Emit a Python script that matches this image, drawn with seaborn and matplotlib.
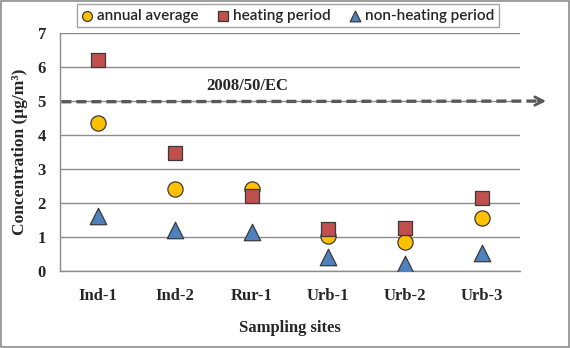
import numpy as np
import pandas as pd
import matplotlib
matplotlib.use("Agg")
import matplotlib.pyplot as plt
import seaborn as sns

# values
sites = ["Ind-1", "Ind-2", "Rur-1", "Urb-1", "Urb-2", "Urb-3"]
annual_average = [4.35, 2.41, 2.41, 1.03, 0.86, 1.57]
heating_period = [6.20, 3.46, 2.21, 1.23, 1.26, 2.16]
non_heating_period = [1.62, 1.20, 1.14, 0.42, 0.20, 0.53]
limit_value = 5.0
limit_label = "2008/50/EC"

series = ["annual average", "heating period", "non-heating period"]

df = pd.DataFrame({
    "site": sites,
    "annual average": annual_average,
    "heating period": heating_period,
    "non-heating period": non_heating_period,
})
long_df = df.melt(id_vars="site", var_name="series", value_name="value")
long_df["x"] = long_df["site"].map({s: i for i, s in enumerate(sites)})

sns.set_style("white")
plt.rcParams["font.family"] = ["Liberation Serif", "DejaVu Serif"]

fig = plt.figure(figsize=(5.7, 3.48), dpi=100)
ax = fig.add_axes([0.105, 0.221, 0.807, 0.684])

palette = {"annual average": "#FFC000", "heating period": "#C0504D",
           "non-heating period": "#4F81BD"}
markers = {"annual average": "o", "heating period": "s",
           "non-heating period": "^"}
sizes = {"annual average": 120, "heating period": 110, "non-heating period": 140}

for name in series:
    sub = long_df[long_df["series"] == name]
    sns.scatterplot(data=sub, x="x", y="value", color=palette[name],
                    marker=markers[name], s=sizes[name], edgecolor="#3a3a3a",
                    linewidth=0.9, ax=ax, zorder=3, label=name, legend=False)

ax.set_xlim(-0.5, len(sites) - 0.5)
ax.set_ylim(0, 7)
ax.set_yticks(range(0, 8))
ax.set_xticks(range(len(sites)))
ax.set_xticklabels(sites)
ax.set_xticks(np.arange(-0.5, len(sites)), minor=True)
ax.tick_params(axis="x", which="major", length=0, pad=12)
ax.tick_params(axis="x", which="minor", length=5, color="#888888", direction="out")
ax.tick_params(axis="y", length=5, color="#888888", direction="out", pad=5)
for lab in ax.get_xticklabels() + ax.get_yticklabels():
    lab.set_fontweight("bold")
    lab.set_fontsize(12)

ax.yaxis.grid(True, color="#8c8c8c", linewidth=1)
ax.set_axisbelow(True)
for side in ["top", "right"]:
    ax.spines[side].set_visible(False)
for side in ["left", "bottom"]:
    ax.spines[side].set_color("#8c8c8c")
    ax.spines[side].set_linewidth(1)

ax.set_xlabel("Sampling sites", fontsize=12, fontweight="bold", labelpad=12)
ax.set_ylabel("Concentration (μg/m³)", fontsize=12.5, fontweight="bold", labelpad=7)

# EU limit value arrow
ax.plot([-0.48, 5.78], [limit_value - 0.02, limit_value], color="#595959",
        linewidth=2.4, linestyle=(0, (3, 1.5)), clip_on=False, zorder=2)
ax.annotate("", xy=(5.88, limit_value), xytext=(5.7, limit_value),
            arrowprops=dict(arrowstyle="->", color="#595959", lw=2.0,
                            mutation_scale=15),
            annotation_clip=False)
ax.text(1.95, limit_value + 0.22, limit_label, fontsize=12,
        fontweight="bold", ha="center", va="bottom")

handles, labels = ax.get_legend_handles_labels()
leg = fig.legend(handles, labels, loc="upper center", ncol=3,
                 bbox_to_anchor=(0.505, 1.01), frameon=True, fancybox=False,
                 edgecolor="#8c8c8c",
                 prop={"family": "Lato", "size": 11, "weight": "semibold"},
                 handlelength=0.8, handletextpad=0.25, columnspacing=1.2,
                 borderpad=0.3, markerscale=0.65)
leg.get_frame().set_linewidth(1)

fig.patches.append(plt.Rectangle((0.002, 0.003), 0.996, 0.994,
                                 transform=fig.transFigure, fill=False,
                                 edgecolor="#8c8c8c", linewidth=1.2))

fig.savefig("out.png", dpi=100)
